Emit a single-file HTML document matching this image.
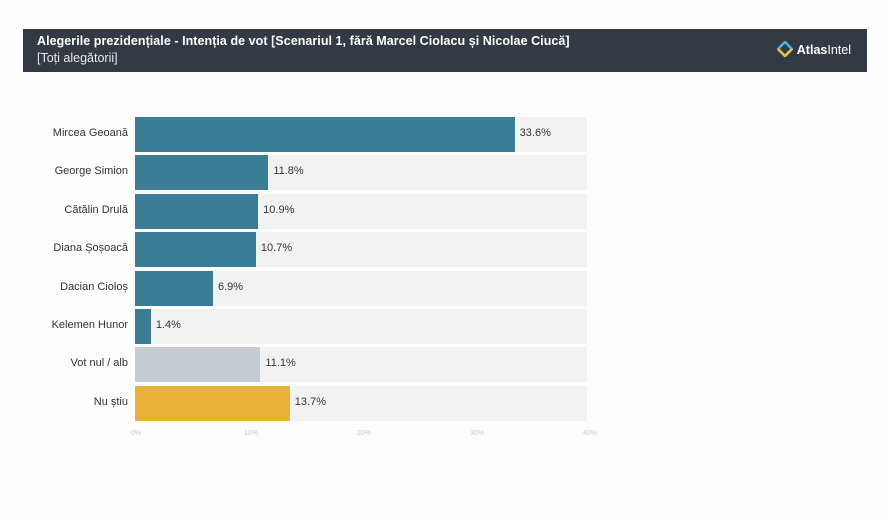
<!DOCTYPE html>
<html><head><meta charset="utf-8"><style>
body{margin:0;width:886px;height:521px;background:#fdfdfd;font-family:"Liberation Sans",sans-serif;position:relative;overflow:hidden}
.hdr{position:absolute;left:23px;top:29px;width:844px;height:43px;background:#343a44;color:#fff}
.t1{position:absolute;left:14px;top:5px;font-size:12.5px;font-weight:bold;letter-spacing:0.05px}
.t2{position:absolute;left:14px;top:22px;font-size:12.5px;color:#e8e8e8}
.logo{position:absolute;right:16px;top:12px;font-size:12.5px;font-weight:bold}
.row{position:absolute;left:0;width:886px;height:35px}
.lab{position:absolute;right:758px;top:10px;font-size:11px;color:#333;white-space:nowrap}
.trk{position:absolute;left:135px;width:452px;height:35px;background:#f2f2f2;top:0}
.bar{position:absolute;left:135px;height:35px;top:0}
.val{position:absolute;top:10px;font-size:11px;color:#333}
.tick{position:absolute;top:430px;font-size:7px;color:#ccc}
</style></head><body>
<div class="hdr"><div class="t1">Alegerile prezidențiale - Intenția de vot [Scenariul 1, fără Marcel Ciolacu și Nicolae Ciucă]</div><div class="t2">[Toți alegătorii]</div>
<div class="logo"><svg width="16" height="16" viewBox="0 0 16 16" style="vertical-align:-3px;margin-right:4px"><path d="M8 1L15 8L8 15L1 8Z" fill="none" stroke="#4bb3e6" stroke-width="2.5"/><path d="M1 8L8 15L15 8" fill="none" stroke="#e8c63a" stroke-width="2.5"/></svg>Atlas<span style="font-weight:normal">Intel</span></div></div>
<div id="c"></div>
<script>
var d=[["Mircea Geoană",33.6,"#3a7d94"],["George Simion",11.8,"#3a7d94"],["Cătălin Drulă",10.9,"#3a7d94"],["Diana Șoșoacă",10.7,"#3a7d94"],["Dacian Cioloș",6.9,"#3a7d94"],["Kelemen Hunor",1.4,"#3a7d94"],["Vot nul / alb",11.1,"#c5ccd2"],["Nu știu",13.7,"#e8b23a"]];
var h="";d.forEach(function(r,i){var y=117+i*38.4,w=r[1]*11.3;
h+='<div class="row" style="top:'+y+'px"><div class="lab">'+r[0]+'</div><div class="trk"></div><div class="bar" style="width:'+w+'px;background:'+r[2]+'"></div><div class="val" style="left:'+(140+w)+'px">'+r[1].toFixed(1)+'%</div></div>';});
[0,10,20,30,40].forEach(function(t){h+='<div class="tick" style="left:'+(131+t*11.3)+'px">'+t+'%</div>';});
document.getElementById("c").innerHTML=h;
</script>
</body></html>
